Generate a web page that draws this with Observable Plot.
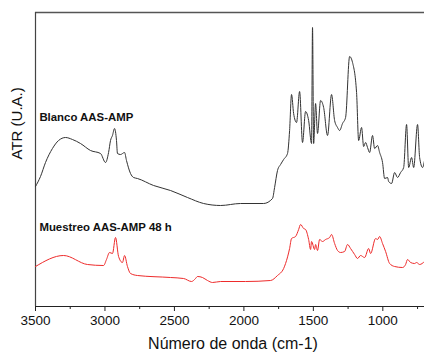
<!DOCTYPE html>
<html><head><meta charset="utf-8">
<script src="https://cdn.jsdelivr.net/npm/d3@7"></script>
<script src="https://cdn.jsdelivr.net/npm/@observablehq/plot@0.6"></script>
<style>body{margin:0;background:#fff;font-family:"Liberation Sans",Arial,sans-serif}</style>
</head><body><div id="chart"></div>
<script>
const blancoWn = [3500,3464,3428,3378,3334,3284,3234,3176,3104,3032,2996,2974,2960,2946,2931,2917,2910,2888,2859,2845,2816,2794,2766,2650,2528,2406,2290,2168,2024,1858,1794,1779,1758,1736,1714,1686,1671,1657,1642,1621,1599,1578,1556,1534,1513,1506,1498,1484,1470,1448,1426,1398,1369,1347,1326,1311,1290,1268,1239,1218,1189,1174,1153,1138,1124,1110,1095,1074,1059,1038,1023,1002,987,966,958,937,915,894,872,850,829,814,793,778,750,735,714,700];
const blancoVal = [120,130,144,158,166,169,167,163,156,153,144,154,166,171,178,166,153,152,154,146,133,129,128,121,116,109,103,101,103,103,108,119,136,142,147,153,176,212,193,184,215,164,195,186,163,279,163,203,173,206,199,171,212,186,179,176,183,189,250,244,214,166,179,160,164,159,154,171,158,161,154,144,128,129,125,123,134,129,134,139,182,139,149,139,182,149,139,146];
const muestreoWn = [3500,3298,3126,3010,2989,2967,2946,2924,2902,2874,2859,2838,2816,2766,2528,2434,2377,2348,2334,2298,2262,2226,2168,1988,1808,1758,1714,1700,1671,1657,1628,1606,1592,1570,1556,1534,1520,1513,1491,1484,1470,1455,1434,1412,1383,1369,1347,1326,1304,1275,1254,1232,1203,1182,1160,1131,1102,1088,1052,1038,1023,1002,980,951,915,858,836,822,800,771,757,735,700];
const muestreoVal = [40,51,42,41,47,54,53,69,50,44,51,40,33,31,29,28,25,28,30,29,26,24,25,25,26,31,38,43,58,68,70,77,82,78,77,67,57,65,57,62,56,67,65,67,69,72,63,56,54,55,62,58,52,48,51,49,58,53,68,67,70,63,55,43,40,39,42,47,44,43,44,42,45];
const xTicks = [3500,3000,2500,2000,1500,1000];
const xMinor = [3250,2750,2250,1750,1250,750];
const seriesLabels = ["Blanco AAS-AMP","Muestreo AAS-AMP 48 h"];
const xLabel = "Número de onda (cm-1)";
const yLabel = "ATR (U.A.)";

const blanco = blancoWn.map((w,i)=>({w, v: blancoVal[i]}));
const muestreo = muestreoWn.map((w,i)=>({w, v: muestreoVal[i]}));

const chart = Plot.plot({
  width: 424, height: 352,
  marginTop: 12, marginBottom: 46, marginLeft: 35, marginRight: 0,
  style: {fontFamily: '"Liberation Sans", Arial, sans-serif', background: "#fff"},
  x: {domain: [3500, 700]},
  y: {domain: [0, 294], axis: null},
  marks: [
    Plot.axisX({ticks: xMinor, tickSize: 3, text: null, label: null, stroke: "#222"}),
    Plot.axisX({ticks: xTicks, tickSize: 5, tickPadding: 4, tickFormat: d3.format("d"), fontSize: 13.5, label: null, stroke: "#222", fill: "#111"}),
    Plot.ruleY([0], {stroke: "#222", strokeWidth: 1.2}),
    Plot.ruleY([294], {stroke: "#555", strokeWidth: 1.5}),
    Plot.ruleX([3500], {stroke: "#444", strokeWidth: 1.2}),
    Plot.line(blanco, {x: "w", y: "v", stroke: "#333", strokeWidth: 1, curve: "monotone-x"}),
    Plot.line(muestreo, {x: "w", y: "v", stroke: "#ee2b2b", strokeWidth: 1, curve: "monotone-x"}),
    Plot.text([seriesLabels[0]], {x: 3472, y: 189, text: d=>d, textAnchor: "start", fontWeight: "bold", fontSize: 11.4, fill: "#111"}),
    Plot.text([seriesLabels[1]], {x: 3472, y: 79, text: d=>d, textAnchor: "start", fontWeight: "bold", fontSize: 11.4, fill: "#111"}),
    Plot.text([xLabel], {frameAnchor: "bottom", dx: 3, dy: 42, text: d=>d, fontSize: 16, fill: "#111"}),
    Plot.text([yLabel], {frameAnchor: "left", dx: -18, rotate: -90, text: d=>d, fontSize: 15, fill: "#111"})
  ]
});
document.getElementById("chart").appendChild(chart);
</script></body></html>
